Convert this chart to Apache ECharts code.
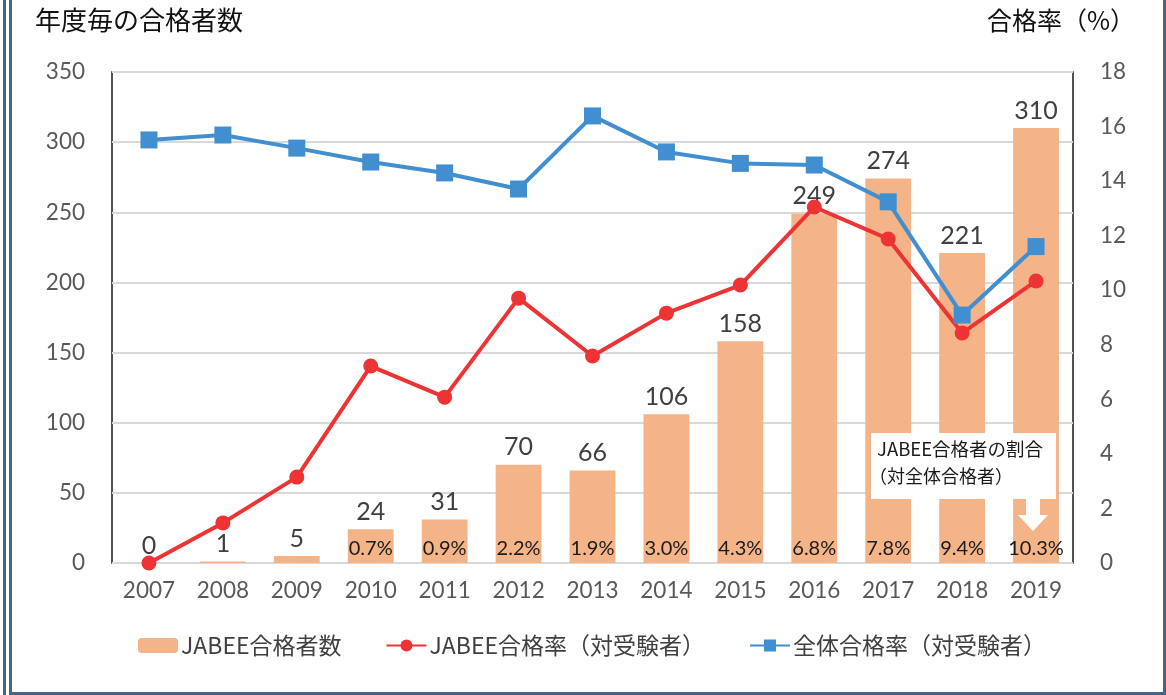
<!DOCTYPE html>
<html><head><meta charset="utf-8">
<script src="https://cdn.jsdelivr.net/npm/echarts@6/dist/echarts.min.js"></script>
<style>html,body{margin:0;padding:0;background:#fff}#c{width:1166px;height:695px}</style>
</head><body><div id="c"></div>
<script>
const years = ['2007','2008','2009','2010','2011','2012','2013','2014','2015','2016','2017','2018','2019'];
const jabeeCount = [0,1,5,24,31,70,66,106,158,249,274,221,310];
const jabeeShare = [null,null,null,'0.7%','0.9%','2.2%','1.9%','3.0%','4.3%','6.8%','7.8%','9.4%','10.3%'];
const jabeeRate = [0,1.47,3.15,7.22,6.08,9.71,7.59,9.16,10.19,13.05,11.88,8.43,10.34];
const totalRate = [15.51,15.69,15.21,14.70,14.30,13.71,16.39,15.07,14.65,14.59,13.24,9.09,11.6];
const leftTicks = [0,50,100,150,200,250,300,350];
const rightTicks = [0,2,4,6,8,10,12,14,16,18];

const NUM = 'Lato, "Noto Sans CJK JP", sans-serif';
const JP = '"Noto Sans CJK JP", sans-serif';
const chart = echarts.init(document.getElementById('c'));
const frame = '#44648c';
chart.setOption({
  animation:false,
  grid:{left:112,right:93,top:72,bottom:132,show:true,borderColor:'#1a1a1a',borderWidth:1.5},
  legend:{
    data:['JABEE合格者数','JABEE合格率（対受験者）','全体合格率（対受験者）'],
    left:133, top:629, itemWidth:40, itemHeight:15, itemGap:44,
    textStyle:{fontFamily:JP,fontSize:23,color:'#404040',padding:[0,0,0,-2]}
  },
  xAxis:{type:'category',data:years,
    axisLine:{show:false},axisTick:{show:false},
    axisLabel:{fontFamily:NUM,fontSize:22.5,color:'#595959',margin:16}},
  yAxis:[
    {type:'value',min:0,max:leftTicks[leftTicks.length-1],interval:50,
     axisLabel:{fontFamily:NUM,fontSize:22.5,color:'#595959',margin:27},
     splitLine:{lineStyle:{color:'#d9d9d9',width:2}},axisLine:{show:false},axisTick:{show:false}},
    {type:'value',min:0,max:rightTicks[rightTicks.length-1],interval:2,
     axisLabel:{fontFamily:NUM,fontSize:22.5,color:'#595959',margin:27},
     splitLine:{show:false},axisLine:{show:false},axisTick:{show:false}}
  ],
  series:[
    {name:'JABEE合格者数',type:'bar',data:jabeeCount,barCategoryGap:'38%',
     itemStyle:{color:'#f4b488'},
     label:{show:true,position:'top',distance:5,fontFamily:NUM,fontSize:25,color:'#404040'}},
    {name:'share',type:'bar',data:jabeeCount,barGap:'-100%',barCategoryGap:'38%',
     itemStyle:{color:'rgba(0,0,0,0)'},silent:true,
     label:{show:true,position:'insideBottom',distance:4,fontFamily:NUM,fontSize:20,color:'#1a1a1a',
       formatter:p=>jabeeShare[p.dataIndex]||''}},
    {name:'JABEE合格率（対受験者）',type:'line',yAxisIndex:1,data:jabeeRate,z:5,
     symbol:'circle',symbolSize:15,lineStyle:{color:'#ee3334',width:4},itemStyle:{color:'#ee3334'}},
    {name:'全体合格率（対受験者）',type:'line',yAxisIndex:1,data:totalRate,z:6,
     symbol:'rect',symbolSize:17,lineStyle:{color:'#418fd0',width:4},itemStyle:{color:'#418fd0'}}
  ],
  graphic:[
    {type:'text',left:35,top:7,style:{text:'年度毎の合格者数',fontFamily:JP,fontSize:26,fill:'#111'}},
    {type:'text',right:31,top:8,style:{text:'合格率（%）',fontFamily:JP,fontSize:25,fill:'#111'}},
    {type:'rect',shape:{x:871,y:433,width:185,height:66},style:{fill:'#fff'},z:100},
    {type:'polygon',shape:{points:[[1026,498],[1040,498],[1040,515],[1048,515],[1033,531],[1018,515],[1026,515]]},style:{fill:'#fff'},z:100},
    {type:'text',left:877,top:440,style:{text:'JABEE合格者の割合',fontFamily:JP,fontSize:18.5,fill:'#1a1a1a'},z:101},
    {type:'text',left:869,top:467,style:{text:'（対全体合格者）',fontFamily:JP,fontSize:18,fill:'#1a1a1a'},z:101},
    {type:'rect',shape:{x:3,y:0,width:3,height:695},style:{fill:frame},z:100},
    {type:'rect',shape:{x:9,y:0,width:3,height:695},style:{fill:frame},z:100},
    {type:'rect',shape:{x:9,y:692,width:1157,height:3},style:{fill:frame},z:100},
    {type:'rect',shape:{x:1163,y:0,width:3,height:695},style:{fill:frame},z:100}
  ]
});
</script></body></html>
